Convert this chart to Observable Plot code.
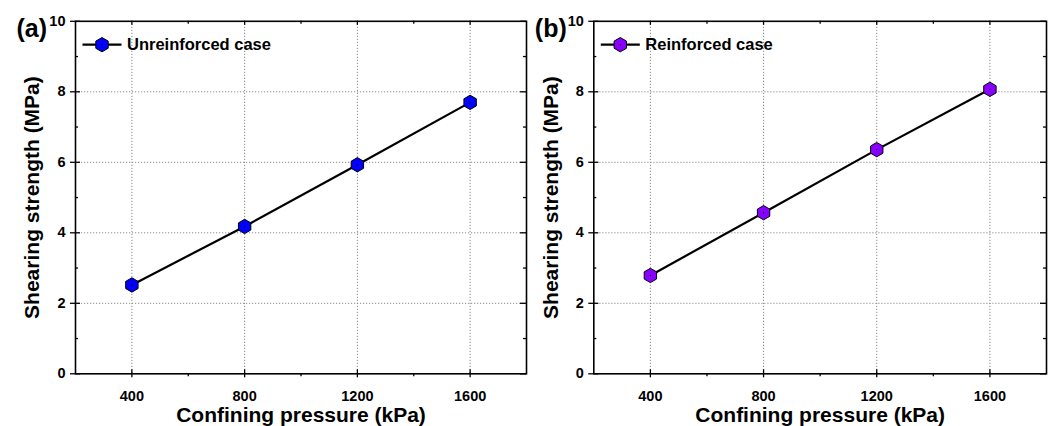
<!DOCTYPE html>
<html><head><meta charset="utf-8">
<script src="https://cdn.jsdelivr.net/npm/d3@7"></script>
<script src="https://cdn.jsdelivr.net/npm/@observablehq/plot@0.6"></script>
<style>
body{margin:0;background:#fff;}
#wrap{display:flex;width:1051px;height:426px;overflow:hidden;}
#wrap svg{flex:none;overflow:visible;}
</style></head><body><div id="wrap"></div>
<script>
// ---- data ----
const pressure = [400, 800, 1200, 1600];
const unreinforced = [2.52, 4.18, 5.93, 7.70];
const reinforced = [2.79, 4.57, 6.36, 8.07];
const panelTags = ["(a)", "(b)"];
const seriesNames = ["Unreinforced case", "Reinforced case"];
const seriesColors = ["#0000ff", "#8800ff"];
const xMajor = [400, 800, 1200, 1600];
const xMinor = [600, 1000, 1400];
const yMajor = [0, 2, 4, 6, 8, 10];
const yMinor = [1, 3, 5, 7, 9];
const yGrid = [2, 4, 6, 8];
const xLabel = "Confining pressure (kPa)";
const yLabel = "Shearing strength (MPa)";

const FONT = "'Liberation Sans', Arial, Helvetica, sans-serif";
const H = 426, MT = 20.8, MB = 52.7;

function panel(values, idx, width, ml, mr) {
  const data = pressure.map((p, i) => ({p, v: values[i]}));
  const FH = H - MT - MB;
  const FW = width - ml - mr;
  const legendLine = {draw(ctx) { ctx.moveTo(-19.5, 0); ctx.lineTo(19.5, 0); }};
  const fmt = d => String(d);
  return Plot.plot({
    width, height: H,
    marginLeft: ml, marginRight: mr, marginTop: MT, marginBottom: MB,
    style: {fontFamily: FONT, fontWeight: "bold", fontSize: "14.5px", background: "transparent", color: "black", overflow: "visible"},
    x: {domain: [200, 1800], label: null, axis: null},
    y: {domain: [0, 10], label: null, axis: null},
    marks: [
      Plot.gridX(xMajor, {stroke: "#8a8a8a", strokeOpacity: 1, strokeDasharray: "1.2,1.8"}),
      Plot.gridY(yGrid, {stroke: "#8a8a8a", strokeOpacity: 1, strokeDasharray: "1.2,1.8"}),
      Plot.frame({stroke: "black", strokeWidth: 1.6}),
      // bottom ticks
      Plot.tickX(xMajor, {x: d => d, insetTop: FH - 4, insetBottom: -4, stroke: "black", strokeWidth: 1.3}),
      Plot.tickX(xMinor, {x: d => d, insetTop: FH, insetBottom: -3, stroke: "black", strokeWidth: 1.3}),
      // top ticks
      Plot.tickX(xMajor, {x: d => d, insetTop: 0, insetBottom: FH - 4, stroke: "black", strokeWidth: 1.3}),
      Plot.tickX(xMinor, {x: d => d, insetTop: 0, insetBottom: FH - 3, stroke: "black", strokeWidth: 1.3}),
      // left ticks
      Plot.tickY(yMajor, {y: d => d, insetLeft: -5, insetRight: FW - 5, stroke: "black", strokeWidth: 1.3}),
      Plot.tickY(yMinor, {y: d => d, insetLeft: 0, insetRight: FW - 3, stroke: "black", strokeWidth: 1.3}),
      // right ticks
      Plot.tickY(yMajor, {y: d => d, insetLeft: FW - 6, insetRight: 0, stroke: "black", strokeWidth: 1.3}),
      Plot.tickY(yMinor, {y: d => d, insetLeft: FW - 3, insetRight: 0, stroke: "black", strokeWidth: 1.3}),
      // tick labels
      Plot.text(xMajor, {x: d => d, frameAnchor: "bottom", dy: 22.8, text: fmt, fontSize: 14.5, fontWeight: "bold", textAnchor: "middle", lineAnchor: "middle"}),
      Plot.text(yMajor, {y: d => d, frameAnchor: "left", dx: -10, text: fmt, fontSize: 14.5, fontWeight: "bold", textAnchor: "end", lineAnchor: "middle"}),
      // axis titles
      Plot.text([xLabel], {frameAnchor: "bottom", text: d => d, dy: 41, fontSize: 21, fontWeight: "bold", textAnchor: "middle", lineAnchor: "middle"}),
      Plot.text([yLabel], {frameAnchor: "left", text: d => d, rotate: -90, dx: -43, fontSize: 21, fontWeight: "bold", textAnchor: "middle", lineAnchor: "middle"}),
      Plot.text([panelTags[idx]], {frameAnchor: "top-left", text: d => d, dx: -59, dy: 7.6, fontSize: 25, fontWeight: "bold", textAnchor: "start", lineAnchor: "middle"}),
      // series
      Plot.line(data, {x: "p", y: "v", stroke: "black", strokeWidth: 2.2}),
      Plot.dot(data, {x: "p", y: "v", symbol: "hexagon", r: 6.2, fill: seriesColors[idx], stroke: "black", strokeWidth: 1}),
      Plot.dot(data, {x: "p", y: "v", r: 0.7, fill: "black", stroke: null}),
      // legend
      Plot.dot([seriesNames[idx]], {frameAnchor: "top-left", dx: 26.5, dy: 23.4, symbol: legendLine, r: 5, stroke: "black", strokeWidth: 2.2, fill: "none"}),
      Plot.dot([seriesNames[idx]], {frameAnchor: "top-left", dx: 26.5, dy: 23.4, symbol: "hexagon", r: 6.2, fill: seriesColors[idx], stroke: "black", strokeWidth: 1}),
      Plot.dot([seriesNames[idx]], {frameAnchor: "top-left", dx: 26.5, dy: 23.4, r: 0.7, fill: "black", stroke: null}),
      Plot.text([seriesNames[idx]], {frameAnchor: "top-left", text: d => d, dx: 51.5, dy: 23.2, fontSize: 16.5, fontWeight: "bold", textAnchor: "start", lineAnchor: "middle"})
    ]
  });
}

const wrap = document.getElementById("wrap");
wrap.appendChild(panel(unreinforced, 0, 530, 75, 4));
wrap.appendChild(panel(reinforced, 1, 521, 63.3, 5));
</script></body></html>
